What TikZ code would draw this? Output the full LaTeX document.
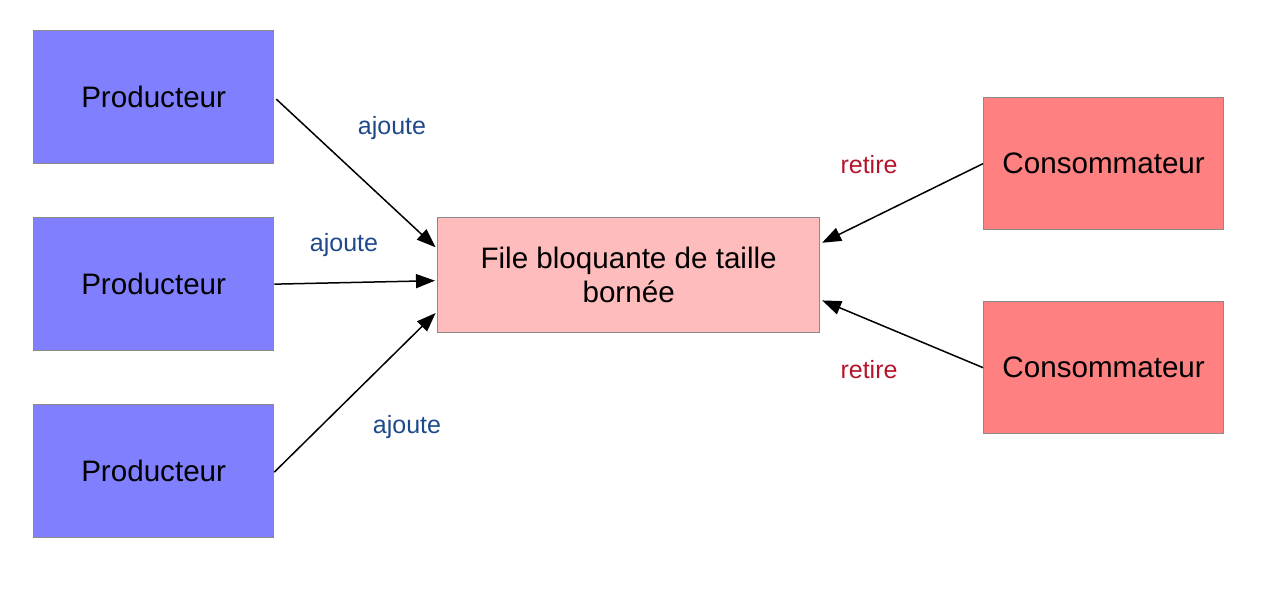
\documentclass[tikz,border=0pt]{standalone}
\usepackage{fontspec}
\setmainfont{Liberation Sans}
\usetikzlibrary{arrows.meta}
\definecolor{prodfill}{HTML}{8080FF}
\definecolor{consfill}{HTML}{FF8080}
\definecolor{filefill}{HTML}{FFBCBC}
\definecolor{boxline}{HTML}{8A8A8A}
\definecolor{ajcol}{HTML}{1E4A8A}
\definecolor{recol}{HTML}{B5152B}
\begin{document}
\begin{tikzpicture}[x=1pt,y=-1pt,
  box/.style={draw=boxline,line width=1.3pt,rectangle,inner sep=0pt,anchor=north west,
    font=\fontsize{29.6}{34}\selectfont,align=center},
  prod/.style={box,fill=prodfill,minimum width=240pt,minimum height=133pt},
  cons/.style={box,fill=consfill,minimum width=240pt,minimum height=132pt},
  lbl/.style={font=\fontsize{25}{30}\selectfont},
  arr/.style={line width=1.5pt,-{Triangle[length=19pt,width=14pt]},shorten >=2pt}]
\useasboundingbox (0,0) rectangle (1262,591);
\node[prod] (p1) at (33,30) {Producteur};
\node[prod] (p2) at (33,217) {Producteur};
\node[prod] (p3) at (33,404) {Producteur};
\node[box,fill=filefill,minimum width=382pt,minimum height=115pt] (file) at (437,217)
  {File bloquante de taille\\bornée};
\node[cons] (c1) at (983,97) {Consommateur};
\node[cons] (c2) at (983,301) {Consommateur};
\draw[arr] ([xshift=2pt,yshift=-2pt]p1.east) -- ([yshift=26.5pt]file.west);
\draw[arr] (p2.east) -- ([yshift=-5.5pt]file.west);
\draw[arr] ([yshift=-1pt]p3.east) -- ([yshift=-36.5pt]file.west);
\draw[arr] (c1.west) -- ([yshift=31.5pt]file.east);
\draw[arr] (c2.west) -- ([yshift=-24.5pt]file.east);
\node[lbl,text=ajcol] (l1) at (392,128) {ajoute};
\node[lbl,text=ajcol] (l2) at (344,245) {ajoute};
\node[lbl,text=ajcol] (l3) at (407,427) {ajoute};
\node[lbl,text=recol] (l4) at (869,165) {retire};
\node[lbl,text=recol] (l5) at (869,370) {retire};
\end{tikzpicture}
\end{document}
